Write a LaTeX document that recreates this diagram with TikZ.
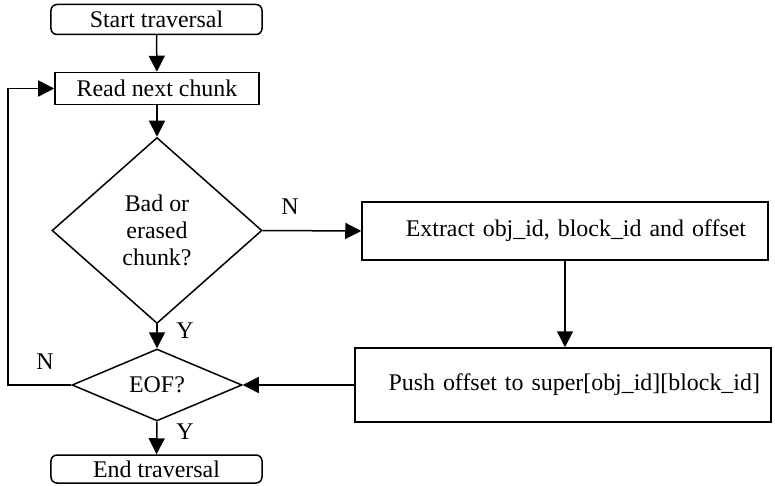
\documentclass[tikz,border=0pt]{standalone}
\usepackage{fontspec}
\setmainfont{Liberation Serif}
\usetikzlibrary{shapes.geometric,arrows.meta}
\begin{document}
\begin{tikzpicture}[x=1bp,y=-1bp,
  every node/.style={font=\fontsize{24}{27}\selectfont},
  termbox/.style={draw,line width=1.5bp,rounded corners=6bp,inner sep=0pt},
  procbox/.style={draw,line width=1.5bp,inner sep=0pt},
  decision/.style={draw,line width=1.5bp,diamond,inner sep=0pt,align=center},
  arr/.style={line width=1.5bp,-{Triangle[length=16bp,width=16bp]}},
  lbl/.style={inner sep=0pt}]
\useasboundingbox (0,0) rectangle (775,486);

\node[termbox,minimum width=211bp,minimum height=30bp] (start) at (156.5,19.5) {Start traversal};
\node[procbox,minimum width=204bp,minimum height=32bp] (read) at (157,88.5) {Read next chunk};
\node[decision,minimum width=210bp,minimum height=186bp] (bad) at (157,230.5) {Bad or\\erased\\chunk?};
\node[procbox,minimum width=406bp,minimum height=58bp,text width=362bp,align=right] (extract) at (565,231) {Extract obj\_id, block\_id and offset};
\node[procbox,minimum width=416bp,minimum height=74bp,text width=394bp,align=right] (push) at (563,385) {Push offset to super[obj\_id][block\_id]};
\node[decision,minimum width=170bp,minimum height=65bp] (eof) at (157,385) {EOF?};
\node[termbox,minimum width=211bp,minimum height=28bp] (end) at (156.5,469) {End traversal};

\coordinate (loop) at (8,385);

\draw[arr] (start) -- (read);
\draw[arr] (read) -- (bad);
\draw[arr] (bad.east) -- (extract.west);
\draw[arr] (extract.south) -- (extract.south |- push.north);
\draw[arr] (push.west) -- (eof.east);
\draw[arr] (bad.south) -- (eof.north);
\draw[arr] (eof.south) -- (end.north);
\draw[arr] (eof.west) -- (loop) |- (read.west);

\node[lbl] (nbad) at (290,207) {N};
\node[lbl] (ybad) at (185,331) {Y};
\node[lbl] (neof) at (45,362) {N};
\node[lbl] (yeof) at (185,432) {Y};
\end{tikzpicture}
\end{document}
